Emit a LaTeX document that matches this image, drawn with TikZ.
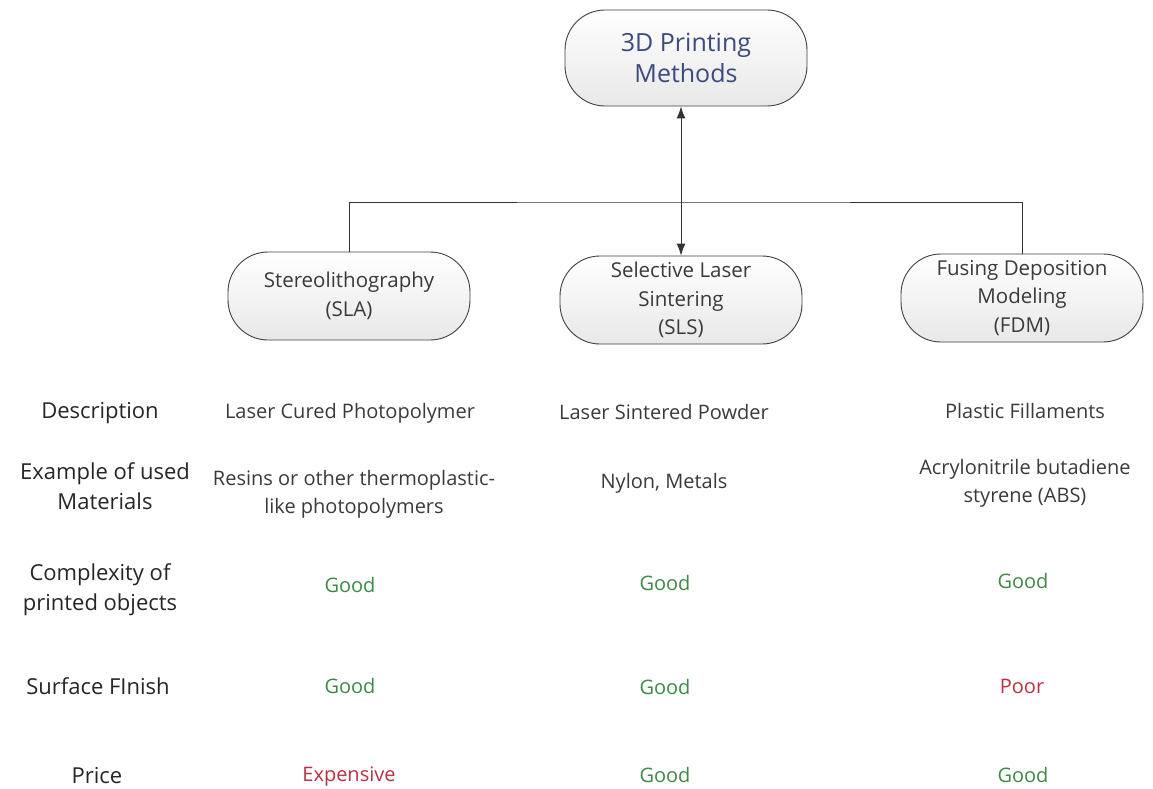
\documentclass[tikz,border=0pt]{standalone}
\usepackage{fontspec}
\setmainfont{Open Sans}
\usetikzlibrary{arrows.meta}
\definecolor{boxline}{HTML}{404040}
\definecolor{titleblue}{HTML}{3C4A7E}
\definecolor{txtgray}{HTML}{3A3A3A}
\definecolor{goodgreen}{HTML}{3D8A45}
\definecolor{badred}{HTML}{B8323F}
\tikzset{
	method/.style={draw=boxline, line width=0.9pt, rounded corners=40pt, top color=white, bottom color=black!9,
		minimum width=242pt, minimum height=88pt, align=center, text=txtgray, font=\fontsize{20.5}{28.5}\selectfont},
	rowlabel/.style={align=center, text=black!85, font=\fontsize{22}{30}\selectfont},
	cell/.style={align=center, text=txtgray, font=\fontsize{20}{28}\selectfont},
	good/.style={cell, text=goodgreen},
	bad/.style={cell, text=badred},
}
\begin{document}
\begin{tikzpicture}[x=1pt, y=-1pt, >={Latex[length=12pt, width=9pt]}]
			%%%%% START %%%%%
			\useasboundingbox (0, 0) rectangle (1153, 789);
			
			\node[method, minimum height=96pt, text=titleblue, font=\fontsize{25}{31}\selectfont] (root) at (686, 58) {3D Printing\\Methods};
			
			\node[method] (sla) at (349, 296) {Stereolithography\\(SLA)};
			\node[method] (sls) at (681, 300) {Selective Laser\\Sintering\\(SLS)};
			\node[method] (fdm) at (1022, 298) {Fusing Deposition\\Modeling\\(FDM)};
			
			\coordinate (bus) at (681, 202);
			\draw[<->, line width=0.9pt, black!80] (root.south -| sls.north) -- (sls.north);
			\draw[line width=0.9pt, black!80] (sla.north) |- (bus) -| (fdm.north);
			
			%%%%% rows %%%%%
			\node[rowlabel] (desc) at (100, 413) {Description};
			\node[rowlabel] (mat) at (105, 486) {Example of used\\Materials};
			\node[rowlabel] (cplx) at (100, 590) {Complexity of\\printed objects};
			\node[rowlabel] (surf) at (98, 686) {Surface FInish};
			\node[rowlabel] (price) at (97, 776) {Price};
			
			\node[cell] (desc1) at (350, 413) {Laser Cured Photopolymer};
			\node[cell] (desc2) at (664, 412) {Laser Sintered Powder};
			\node[cell] (desc3) at (1025, 411) {Plastic Fillaments};
			
			\node[cell] (mat1) at (354, 494) {Resins or other thermoplastic-\\like photopolymers};
			\node[cell] (mat2) at (664, 483) {Nylon, Metals};
			\node[cell] (mat3) at (1025, 483) {Acrylonitrile butadiene\\styrene (ABS)};
			
			\node[good] (cplx1) at (350, 585) {Good};
			\node[good] (cplx2) at (665, 583) {Good};
			\node[good] (cplx3) at (1023, 581) {Good};
			
			\node[good] (surf1) at (350, 686) {Good};
			\node[good] (surf2) at (665, 687) {Good};
			\node[bad] (surf3) at (1022, 686) {Poor};
			
			\node[bad] (price1) at (349, 777) {Expensive};
			\node[good] (price2) at (665, 775) {Good};
			\node[good] (price3) at (1023, 775) {Good};
			
			%%%%% END %%%%%
\end{tikzpicture}
\end{document}
